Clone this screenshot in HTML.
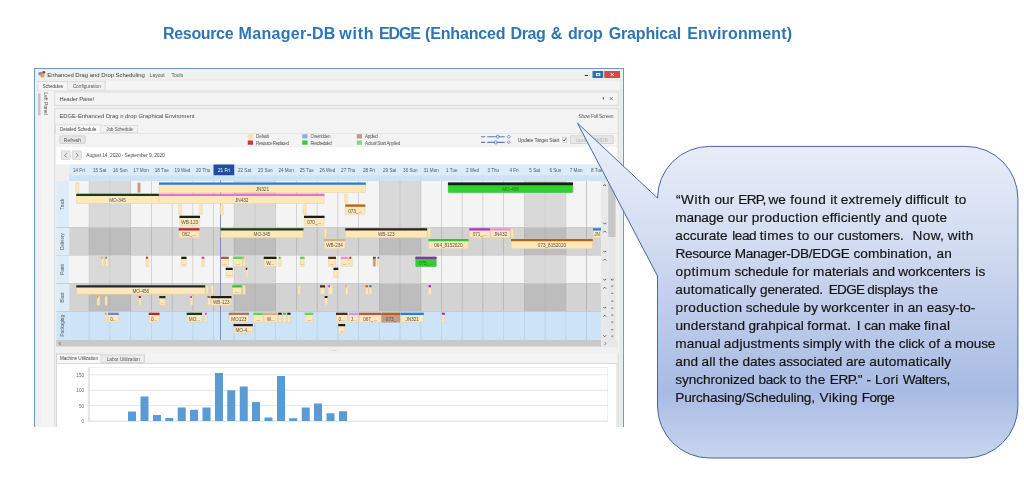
<!DOCTYPE html>
<html><head><meta charset="utf-8"><title>Resource Manager-DB with EDGE</title>
<style>
html,body{margin:0;padding:0;background:#fff;}
body{width:1024px;height:483px;position:relative;overflow:hidden;font-family:"Liberation Sans",sans-serif;}
.tw{position:absolute;top:19.2px;height:30px;line-height:30px;font-size:16px;font-weight:bold;color:#2e75b6;white-space:nowrap;}
#win{position:absolute;left:34px;top:68px;width:590.0px;height:358.5px;overflow:hidden;will-change:transform;}
#z{position:absolute;left:0;top:0;width:2360.0px;height:1434.0px;transform:scale(0.25);transform-origin:0 0;}
#win div{position:absolute;}
#win .t{font-family:"Liberation Sans",sans-serif;}
#callout{position:absolute;left:0;top:0;}
#quote{position:absolute;left:0;top:0;width:1024px;height:483px;will-change:transform;}
#ttl{position:absolute;left:0;top:0;width:1024px;height:60px;will-change:transform;}
.q{position:absolute;height:18px;line-height:18px;font-size:13.6px;color:#141414;-webkit-text-stroke:0.18px #141414;white-space:nowrap;}
</style></head><body>
<div id="ttl"><span class="tw" id="w0" style="left:163.10px;letter-spacing:-0.353px;">Resource</span> <span class="tw" id="w1" style="left:238.60px;letter-spacing:0.287px;">Manager-DB</span> <span class="tw" id="w2" style="left:339.30px;letter-spacing:0.750px;">with</span> <span class="tw" id="w3" style="left:379.00px;letter-spacing:-1.111px;">EDGE</span> <span class="tw" id="w4" style="left:425.00px;letter-spacing:-0.155px;">(Enhanced</span> <span class="tw" id="w5" style="left:510.50px;letter-spacing:-0.363px;">Drag</span> <span class="tw" id="w6" style="left:550.80px;letter-spacing:0.438px;">&amp;</span> <span class="tw" id="w7" style="left:567.90px;letter-spacing:-0.187px;">drop</span> <span class="tw" id="w8" style="left:608.70px;letter-spacing:-0.157px;">Graphical</span> <span class="tw" id="w9" style="left:687.20px;letter-spacing:0.156px;">Environment)</span></div>
<div id="win"><div id="z">
<div style="left:0px;top:0px;width:2360px;height:1442px;background:#f0f0f0;border:4px solid #7394cf;box-sizing:border-box;"></div>
<div class="t" style="left:52.8px;top:7.32px;height:40px;line-height:40px;font-size:23.8px;color:#3a3a3a;white-space:nowrap;letter-spacing:-0.13px;"><span id="t1">Enhanced Drag and Drop Scheduling</span></div>
<div class="t" style="left:462.4px;top:6.56px;height:40px;line-height:40px;font-size:20px;color:#555;white-space:nowrap;">Layout</div>
<div class="t" style="left:550px;top:6.56px;height:40px;line-height:40px;font-size:20px;color:#555;white-space:nowrap;">Tools</div>
<div style="left:18.4px;top:16px;width:14.4px;height:13.6px;background:#7a93bd;border-radius:4.8px;"></div>
<div style="left:26.4px;top:24.8px;width:16px;height:13.2px;background:#d9a24e;border-radius:4px;"></div>
<div style="left:32.8px;top:11.6px;width:12px;height:11.2px;background:#d62424;border-radius:8px;"></div>
<div style="left:2203.2px;top:27.6px;width:12.8px;height:4px;background:#333;"></div>
<div style="left:2234.4px;top:11.6px;width:42.8px;height:28px;background:#2e6db8;"></div>
<div style="left:2247.6px;top:19.6px;width:17.2px;height:12.8px;border:3.2px solid #fff;border-top-width:5.6px;box-sizing:border-box;"></div>
<div style="left:2281.2px;top:11.6px;width:63.2px;height:28px;background:#cf4d48;"></div>
<div style="left:4px;top:48.8px;width:2352px;height:41.2px;background:#f5f5f5;"></div>
<div style="left:4px;top:47.2px;width:2352px;height:2px;background:#e0e0e0;"></div>
<div style="left:14.4px;top:51.6px;width:122.8px;height:40.4px;background:#f6f6f6;border:3.2px solid #d4d4d4;border-bottom:none;box-sizing:border-box;"></div>
<div style="left:137.2px;top:53.2px;width:149.2px;height:36.8px;background:#f1f1f1;border:3.2px solid #d6d6d6;border-left:none;box-sizing:border-box;"></div>
<div style="left:12px;top:89.2px;width:2344px;height:2px;background:#dadada;"></div>
<div class="t" style="left:34px;top:52.32px;height:40px;line-height:40px;font-size:18.8px;color:#4a4a4a;white-space:nowrap;letter-spacing:-0.72px;"><span id="t2">Schedules</span></div>
<div class="t" style="left:154.8px;top:52.4px;height:40px;line-height:40px;font-size:19px;color:#555;white-space:nowrap;letter-spacing:-0.05px;"><span id="t3">Configuration</span></div>
<div style="left:15.6px;top:101.6px;width:10px;height:88.8px;background:#c4c4c4;"></div>
<div style="left:28px;top:92px;width:56px;height:1342px;background:#f3f3f3;"></div>
<div class="t" style="left:-136px;top:-291.84px;height:40px;line-height:40px;font-size:20px;color:#555;white-space:nowrap;left:-3.2px;top:122.4px;width:96px;text-align:center;transform:rotate(90deg);">Left Panel</div>
<div style="left:81.2px;top:94.4px;width:2258px;height:56.8px;background:#f4f4f4;border:4px solid #dadada;box-sizing:border-box;"></div>
<div style="left:2345.6px;top:52px;width:3.2px;height:1382px;background:#dcdcdc;"></div>
<div class="t" style="left:101.6px;top:102.56px;height:40px;line-height:40px;font-size:22.8px;color:#484848;white-space:nowrap;letter-spacing:-0.2px;"><span id="t4">Header Panel</span></div>
<div style="left:2275.2px;top:117.2px;width:4.8px;height:7.6px;background:#666;"></div>
<div style="left:2276.8px;top:124.8px;width:1.6px;height:4px;background:#666;"></div>
<div style="left:81.2px;top:160.8px;width:2258px;height:1281.2px;background:#f3f3f3;border:4px solid #dadada;box-sizing:border-box;"></div>
<div class="t" style="left:101.6px;top:173.16px;height:40px;line-height:40px;font-size:23.4px;color:#484848;white-space:nowrap;letter-spacing:-0px;"><span id="t5">EDGE-Enhanced Drag n drop Graphical Enviroment</span></div>
<div class="t" style="left:2178.4px;top:172px;height:40px;line-height:40px;font-size:19.6px;color:#555;white-space:nowrap;letter-spacing:-0.96px;"><span id="t6">Show Full Screen</span></div>
<div style="left:85.2px;top:225.6px;width:183.6px;height:36.8px;background:#f7f7f7;border:3.2px solid #d4d4d4;border-bottom:none;box-sizing:border-box;"></div>
<div style="left:268.8px;top:228px;width:147.2px;height:32.4px;background:#f1f1f1;border:3.2px solid #d8d8d8;border-left:none;box-sizing:border-box;"></div>
<div style="left:85.2px;top:260px;width:2254.8px;height:2.4px;background:#d8d8d8;"></div>
<div class="t" style="left:103.6px;top:225.12px;height:40px;line-height:40px;font-size:18.8px;color:#4a4a4a;white-space:nowrap;letter-spacing:-0.4px;"><span id="t7">Detailed Schedule</span></div>
<div class="t" style="left:288.8px;top:225.92px;height:40px;line-height:40px;font-size:18.8px;color:#555;white-space:nowrap;letter-spacing:-0.64px;"><span id="t8">Job Schedule</span></div>
<div style="left:101.6px;top:270.4px;width:104.4px;height:32.8px;background:#e7e7e7;border:3.2px solid #c6c6c6;box-sizing:border-box;border-radius:4px;"></div>
<div class="t" style="left:101.6px;top:266.8px;height:40px;line-height:40px;font-size:19.6px;color:#4a4a4a;white-space:nowrap;width:104.4px;text-align:center;">Refresh</div>
<div style="left:855.2px;top:265.2px;width:21.2px;height:16.8px;background:#fbe0ae;"></div>
<div class="t" style="left:888.4px;top:254.6px;height:40px;line-height:40px;font-size:18.4px;color:#5a5a5a;white-space:nowrap;letter-spacing:-1.05px;"><span id="t9">Default</span></div>
<div style="left:855.2px;top:290.4px;width:21.2px;height:16.8px;background:#c43a3a;"></div>
<div class="t" style="left:888.4px;top:279.8px;height:40px;line-height:40px;font-size:18.4px;color:#5a5a5a;white-space:nowrap;letter-spacing:-1.87px;"><span id="t10">Resource Replaced</span></div>
<div style="left:1073.2px;top:265.2px;width:21.2px;height:16.8px;background:#8db0e0;"></div>
<div class="t" style="left:1106.4px;top:254.6px;height:40px;line-height:40px;font-size:18.4px;color:#5a5a5a;white-space:nowrap;letter-spacing:-1.26px;"><span id="t11">Overridden</span></div>
<div style="left:1073.2px;top:290.4px;width:21.2px;height:16.8px;background:#35c935;"></div>
<div class="t" style="left:1106.4px;top:279.8px;height:40px;line-height:40px;font-size:18.4px;color:#5a5a5a;white-space:nowrap;letter-spacing:-2.22px;"><span id="t12">Rescheduled</span></div>
<div style="left:1291.2px;top:265.2px;width:21.2px;height:16.8px;background:#c49484;"></div>
<div class="t" style="left:1324.4px;top:254.6px;height:40px;line-height:40px;font-size:18.4px;color:#5a5a5a;white-space:nowrap;letter-spacing:-1.69px;"><span id="t13">Applied</span></div>
<div style="left:1291.2px;top:290.4px;width:21.2px;height:16.8px;background:#86d486;"></div>
<div class="t" style="left:1324.4px;top:279.8px;height:40px;line-height:40px;font-size:18.4px;color:#5a5a5a;white-space:nowrap;letter-spacing:-1.04px;"><span id="t14">Actual Start Applied</span></div>
<div style="left:1788px;top:272.6px;width:16.8px;height:4.4px;background:#5b7cc4;"></div>
<div style="left:1812.8px;top:272.6px;width:70px;height:4.4px;background:#5b7cc4;"></div>
<div style="left:1849.2px;top:267.2px;width:12px;height:15.2px;background:#f0f0f0;border:3.2px solid #5b7cc4;box-sizing:border-box;border-radius:3.2px;"></div>
<div style="left:1893.2px;top:268.6px;width:12.4px;height:12.4px;background:#f0f0f0;border:3.6px solid #5b7cc4;box-sizing:border-box;transform:rotate(45deg);"></div>
<div style="left:1788px;top:295.4px;width:16.8px;height:4.4px;background:#5b7cc4;"></div>
<div style="left:1812.8px;top:295.4px;width:70px;height:4.4px;background:#5b7cc4;"></div>
<div style="left:1840.8px;top:290px;width:12px;height:15.2px;background:#f0f0f0;border:3.2px solid #5b7cc4;box-sizing:border-box;border-radius:3.2px;"></div>
<div style="left:1893.2px;top:291.4px;width:12.4px;height:12.4px;background:#f0f0f0;border:3.6px solid #5b7cc4;box-sizing:border-box;transform:rotate(45deg);"></div>
<div class="t" style="left:1934.8px;top:268.16px;height:40px;line-height:40px;font-size:20px;color:#4a4a4a;white-space:nowrap;letter-spacing:-0.35px;"><span id="t15">Update Target Start</span></div>
<div style="left:2111.6px;top:276.8px;width:20.4px;height:20.8px;background:#fdfdfd;border:2.8px solid #b5b5b5;box-sizing:border-box;"></div>
<div style="left:2144px;top:270.4px;width:173.6px;height:33.2px;background:#e8e8e8;border:3.2px solid #cfcfcf;box-sizing:border-box;"></div>
<div class="t" style="left:2144px;top:267.76px;height:40px;line-height:40px;font-size:20px;color:#b4b4b4;white-space:nowrap;width:173.6px;text-align:center;">Update RMDB</div>
<div style="left:85.2px;top:312.8px;width:2254.8px;height:2px;background:#d4d4d4;"></div>
<div style="left:88.8px;top:314.4px;width:2243.2px;height:71.2px;background:#ffffff;"></div>
<div style="left:107.6px;top:330.4px;width:38px;height:36.8px;background:#e9e9e9;border:3.2px solid #cdcdcd;box-sizing:border-box;border-radius:3.2px;"></div>
<div style="left:153.2px;top:330.4px;width:38px;height:36.8px;background:#e9e9e9;border:3.2px solid #cdcdcd;box-sizing:border-box;border-radius:3.2px;"></div>
<div class="t" style="left:209.2px;top:330.4px;height:40px;line-height:40px;font-size:19.6px;color:#4a4a4a;white-space:nowrap;letter-spacing:-0.38px;"><span id="t16">August 14, 2020 - September 9, 2020</span></div>
<div style="left:88.8px;top:385.6px;width:51.2px;height:66.4px;background:#efefef;"></div>
<div style="left:140px;top:385.6px;width:2188px;height:43.2px;background:#dcedf9;"></div>
<div style="left:140px;top:428.8px;width:2188px;height:23.2px;background:#cde3f6;"></div>
<div style="left:718.16px;top:386.4px;width:82.88px;height:42.4px;background:#1f4e9c;"></div>
<div style="left:219.68px;top:430.4px;width:2.4px;height:21.6px;border-left:2.4px dashed #c3d9ed;box-sizing:border-box;"></div>
<div style="left:302.56px;top:430.4px;width:2.4px;height:21.6px;border-left:2.4px dashed #c3d9ed;box-sizing:border-box;"></div>
<div style="left:385.44px;top:430.4px;width:2.4px;height:21.6px;border-left:2.4px dashed #c3d9ed;box-sizing:border-box;"></div>
<div style="left:468.32px;top:430.4px;width:2.4px;height:21.6px;border-left:2.4px dashed #c3d9ed;box-sizing:border-box;"></div>
<div style="left:551.2px;top:430.4px;width:2.4px;height:21.6px;border-left:2.4px dashed #c3d9ed;box-sizing:border-box;"></div>
<div style="left:634.08px;top:430.4px;width:2.4px;height:21.6px;border-left:2.4px dashed #c3d9ed;box-sizing:border-box;"></div>
<div style="left:716.96px;top:430.4px;width:2.4px;height:21.6px;border-left:2.4px dashed #c3d9ed;box-sizing:border-box;"></div>
<div style="left:799.84px;top:430.4px;width:2.4px;height:21.6px;border-left:2.4px dashed #c3d9ed;box-sizing:border-box;"></div>
<div style="left:882.72px;top:430.4px;width:2.4px;height:21.6px;border-left:2.4px dashed #c3d9ed;box-sizing:border-box;"></div>
<div style="left:965.6px;top:430.4px;width:2.4px;height:21.6px;border-left:2.4px dashed #c3d9ed;box-sizing:border-box;"></div>
<div style="left:1048.48px;top:430.4px;width:2.4px;height:21.6px;border-left:2.4px dashed #c3d9ed;box-sizing:border-box;"></div>
<div style="left:1131.36px;top:430.4px;width:2.4px;height:21.6px;border-left:2.4px dashed #c3d9ed;box-sizing:border-box;"></div>
<div style="left:1214.24px;top:430.4px;width:2.4px;height:21.6px;border-left:2.4px dashed #c3d9ed;box-sizing:border-box;"></div>
<div style="left:1297.12px;top:430.4px;width:2.4px;height:21.6px;border-left:2.4px dashed #c3d9ed;box-sizing:border-box;"></div>
<div style="left:1380px;top:430.4px;width:2.4px;height:21.6px;border-left:2.4px dashed #c3d9ed;box-sizing:border-box;"></div>
<div style="left:1462.88px;top:430.4px;width:2.4px;height:21.6px;border-left:2.4px dashed #c3d9ed;box-sizing:border-box;"></div>
<div style="left:1545.76px;top:430.4px;width:2.4px;height:21.6px;border-left:2.4px dashed #c3d9ed;box-sizing:border-box;"></div>
<div style="left:1628.64px;top:430.4px;width:2.4px;height:21.6px;border-left:2.4px dashed #c3d9ed;box-sizing:border-box;"></div>
<div style="left:1711.52px;top:430.4px;width:2.4px;height:21.6px;border-left:2.4px dashed #c3d9ed;box-sizing:border-box;"></div>
<div style="left:1794.4px;top:430.4px;width:2.4px;height:21.6px;border-left:2.4px dashed #c3d9ed;box-sizing:border-box;"></div>
<div style="left:1877.28px;top:430.4px;width:2.4px;height:21.6px;border-left:2.4px dashed #c3d9ed;box-sizing:border-box;"></div>
<div style="left:1960.16px;top:430.4px;width:2.4px;height:21.6px;border-left:2.4px dashed #c3d9ed;box-sizing:border-box;"></div>
<div style="left:2043.04px;top:430.4px;width:2.4px;height:21.6px;border-left:2.4px dashed #c3d9ed;box-sizing:border-box;"></div>
<div style="left:2125.92px;top:430.4px;width:2.4px;height:21.6px;border-left:2.4px dashed #c3d9ed;box-sizing:border-box;"></div>
<div style="left:2208.8px;top:430.4px;width:2.4px;height:21.6px;border-left:2.4px dashed #c3d9ed;box-sizing:border-box;"></div>
<div class="t" style="left:138px;top:388.6px;height:40px;line-height:40px;font-size:18.4px;color:#555;white-space:nowrap;width:82.88px;text-align:center;">14 Fri</div>
<div class="t" style="left:220.88px;top:388.6px;height:40px;line-height:40px;font-size:18.4px;color:#555;white-space:nowrap;width:82.88px;text-align:center;">15 Sat</div>
<div class="t" style="left:303.76px;top:388.6px;height:40px;line-height:40px;font-size:18.4px;color:#555;white-space:nowrap;width:82.88px;text-align:center;">16 Sun</div>
<div class="t" style="left:386.64px;top:388.6px;height:40px;line-height:40px;font-size:18.4px;color:#555;white-space:nowrap;width:82.88px;text-align:center;">17 Mon</div>
<div class="t" style="left:469.52px;top:388.6px;height:40px;line-height:40px;font-size:18.4px;color:#555;white-space:nowrap;width:82.88px;text-align:center;">18 Tue</div>
<div class="t" style="left:552.4px;top:388.6px;height:40px;line-height:40px;font-size:18.4px;color:#555;white-space:nowrap;width:82.88px;text-align:center;">19 Wed</div>
<div class="t" style="left:635.28px;top:388.6px;height:40px;line-height:40px;font-size:18.4px;color:#555;white-space:nowrap;width:82.88px;text-align:center;">20 Thu</div>
<div class="t" style="left:718.16px;top:388.6px;height:40px;line-height:40px;font-size:18.4px;color:#fff;white-space:nowrap;width:82.88px;text-align:center;">21 Fri</div>
<div class="t" style="left:801.04px;top:388.6px;height:40px;line-height:40px;font-size:18.4px;color:#555;white-space:nowrap;width:82.88px;text-align:center;">22 Sat</div>
<div class="t" style="left:883.92px;top:388.6px;height:40px;line-height:40px;font-size:18.4px;color:#555;white-space:nowrap;width:82.88px;text-align:center;">23 Sun</div>
<div class="t" style="left:966.8px;top:388.6px;height:40px;line-height:40px;font-size:18.4px;color:#555;white-space:nowrap;width:82.88px;text-align:center;">24 Mon</div>
<div class="t" style="left:1049.68px;top:388.6px;height:40px;line-height:40px;font-size:18.4px;color:#555;white-space:nowrap;width:82.88px;text-align:center;">25 Tue</div>
<div class="t" style="left:1132.56px;top:388.6px;height:40px;line-height:40px;font-size:18.4px;color:#555;white-space:nowrap;width:82.88px;text-align:center;">26 Wed</div>
<div class="t" style="left:1215.44px;top:388.6px;height:40px;line-height:40px;font-size:18.4px;color:#555;white-space:nowrap;width:82.88px;text-align:center;">27 Thu</div>
<div class="t" style="left:1298.32px;top:388.6px;height:40px;line-height:40px;font-size:18.4px;color:#555;white-space:nowrap;width:82.88px;text-align:center;">28 Fri</div>
<div class="t" style="left:1381.2px;top:388.6px;height:40px;line-height:40px;font-size:18.4px;color:#555;white-space:nowrap;width:82.88px;text-align:center;">29 Sat</div>
<div class="t" style="left:1464.08px;top:388.6px;height:40px;line-height:40px;font-size:18.4px;color:#555;white-space:nowrap;width:82.88px;text-align:center;">30 Sun</div>
<div class="t" style="left:1546.96px;top:388.6px;height:40px;line-height:40px;font-size:18.4px;color:#555;white-space:nowrap;width:82.88px;text-align:center;">31 Mon</div>
<div class="t" style="left:1629.84px;top:388.6px;height:40px;line-height:40px;font-size:18.4px;color:#555;white-space:nowrap;width:82.88px;text-align:center;">1 Tue</div>
<div class="t" style="left:1712.72px;top:388.6px;height:40px;line-height:40px;font-size:18.4px;color:#555;white-space:nowrap;width:82.88px;text-align:center;">2 Wed</div>
<div class="t" style="left:1795.6px;top:388.6px;height:40px;line-height:40px;font-size:18.4px;color:#555;white-space:nowrap;width:82.88px;text-align:center;">3 Thu</div>
<div class="t" style="left:1878.48px;top:388.6px;height:40px;line-height:40px;font-size:18.4px;color:#555;white-space:nowrap;width:82.88px;text-align:center;">4 Fri</div>
<div class="t" style="left:1961.36px;top:388.6px;height:40px;line-height:40px;font-size:18.4px;color:#555;white-space:nowrap;width:82.88px;text-align:center;">5 Sat</div>
<div class="t" style="left:2044.24px;top:388.6px;height:40px;line-height:40px;font-size:18.4px;color:#555;white-space:nowrap;width:82.88px;text-align:center;">6 Sun</div>
<div class="t" style="left:2127.12px;top:388.6px;height:40px;line-height:40px;font-size:18.4px;color:#555;white-space:nowrap;width:82.88px;text-align:center;">7 Mon</div>
<div class="t" style="left:2210px;top:388.6px;height:40px;line-height:40px;font-size:18.4px;color:#555;white-space:nowrap;width:82.88px;text-align:center;">8 Tue</div>
<div style="left:88.8px;top:452px;width:52px;height:185.6px;background:#dcedf9;"></div>
<div style="left:140.8px;top:452px;width:2127.2px;height:185.6px;background:#f4f4f4;"></div>
<div style="left:220.88px;top:452px;width:82.88px;height:185.6px;background:#d9d9d9;"></div>
<div style="left:303.76px;top:452px;width:82.88px;height:185.6px;background:#d9d9d9;"></div>
<div style="left:801.04px;top:452px;width:82.88px;height:185.6px;background:#d9d9d9;"></div>
<div style="left:883.92px;top:452px;width:82.88px;height:185.6px;background:#d9d9d9;"></div>
<div style="left:1381.2px;top:452px;width:82.88px;height:185.6px;background:#d9d9d9;"></div>
<div style="left:1464.08px;top:452px;width:82.88px;height:185.6px;background:#d9d9d9;"></div>
<div style="left:1961.36px;top:452px;width:82.88px;height:185.6px;background:#d9d9d9;"></div>
<div style="left:2044.24px;top:452px;width:82.88px;height:185.6px;background:#d9d9d9;"></div>
<div style="left:219.28px;top:452px;width:3.2px;height:185.6px;background:#c9c9c9;"></div>
<div style="left:302.16px;top:452px;width:3.2px;height:185.6px;background:#c9c9c9;"></div>
<div style="left:385.04px;top:452px;width:3.2px;height:185.6px;background:#c9c9c9;"></div>
<div style="left:467.92px;top:452px;width:3.2px;height:185.6px;background:#c9c9c9;"></div>
<div style="left:550.8px;top:452px;width:3.2px;height:185.6px;background:#c9c9c9;"></div>
<div style="left:633.68px;top:452px;width:3.2px;height:185.6px;background:#c9c9c9;"></div>
<div style="left:716.56px;top:452px;width:3.2px;height:185.6px;background:#c9c9c9;"></div>
<div style="left:799.44px;top:452px;width:3.2px;height:185.6px;background:#c9c9c9;"></div>
<div style="left:882.32px;top:452px;width:3.2px;height:185.6px;background:#c9c9c9;"></div>
<div style="left:965.2px;top:452px;width:3.2px;height:185.6px;background:#c9c9c9;"></div>
<div style="left:1048.08px;top:452px;width:3.2px;height:185.6px;background:#c9c9c9;"></div>
<div style="left:1130.96px;top:452px;width:3.2px;height:185.6px;background:#c9c9c9;"></div>
<div style="left:1213.84px;top:452px;width:3.2px;height:185.6px;background:#c9c9c9;"></div>
<div style="left:1296.72px;top:452px;width:3.2px;height:185.6px;background:#c9c9c9;"></div>
<div style="left:1379.6px;top:452px;width:3.2px;height:185.6px;background:#c9c9c9;"></div>
<div style="left:1462.48px;top:452px;width:3.2px;height:185.6px;background:#c9c9c9;"></div>
<div style="left:1545.36px;top:452px;width:3.2px;height:185.6px;background:#c9c9c9;"></div>
<div style="left:1628.24px;top:452px;width:3.2px;height:185.6px;background:#c9c9c9;"></div>
<div style="left:1711.12px;top:452px;width:3.2px;height:185.6px;background:#c9c9c9;"></div>
<div style="left:1794px;top:452px;width:3.2px;height:185.6px;background:#c9c9c9;"></div>
<div style="left:1876.88px;top:452px;width:3.2px;height:185.6px;background:#c9c9c9;"></div>
<div style="left:1959.76px;top:452px;width:3.2px;height:185.6px;background:#c9c9c9;"></div>
<div style="left:2042.64px;top:452px;width:3.2px;height:185.6px;background:#c9c9c9;"></div>
<div style="left:2125.52px;top:452px;width:3.2px;height:185.6px;background:#c9c9c9;"></div>
<div style="left:2208.4px;top:452px;width:3.2px;height:185.6px;background:#c9c9c9;"></div>
<div class="t" style="left:-136px;top:-291.4px;height:40px;line-height:40px;font-size:18.4px;color:#555;white-space:nowrap;left:55.2px;top:524.8px;width:120px;text-align:center;transform:rotate(-90deg);">Truck</div>
<div style="left:88.8px;top:637.6px;width:52px;height:112.4px;background:#dcedf9;"></div>
<div style="left:140.8px;top:637.6px;width:2127.2px;height:112.4px;background:#d3d3d3;"></div>
<div style="left:220.88px;top:637.6px;width:82.88px;height:112.4px;background:#bdbdbd;"></div>
<div style="left:303.76px;top:637.6px;width:82.88px;height:112.4px;background:#bdbdbd;"></div>
<div style="left:801.04px;top:637.6px;width:82.88px;height:112.4px;background:#bdbdbd;"></div>
<div style="left:883.92px;top:637.6px;width:82.88px;height:112.4px;background:#bdbdbd;"></div>
<div style="left:1381.2px;top:637.6px;width:82.88px;height:112.4px;background:#bdbdbd;"></div>
<div style="left:1464.08px;top:637.6px;width:82.88px;height:112.4px;background:#bdbdbd;"></div>
<div style="left:1961.36px;top:637.6px;width:82.88px;height:112.4px;background:#bdbdbd;"></div>
<div style="left:2044.24px;top:637.6px;width:82.88px;height:112.4px;background:#bdbdbd;"></div>
<div style="left:219.28px;top:637.6px;width:3.2px;height:112.4px;background:#b2b2b2;"></div>
<div style="left:302.16px;top:637.6px;width:3.2px;height:112.4px;background:#b2b2b2;"></div>
<div style="left:385.04px;top:637.6px;width:3.2px;height:112.4px;background:#b2b2b2;"></div>
<div style="left:467.92px;top:637.6px;width:3.2px;height:112.4px;background:#b2b2b2;"></div>
<div style="left:550.8px;top:637.6px;width:3.2px;height:112.4px;background:#b2b2b2;"></div>
<div style="left:633.68px;top:637.6px;width:3.2px;height:112.4px;background:#b2b2b2;"></div>
<div style="left:716.56px;top:637.6px;width:3.2px;height:112.4px;background:#b2b2b2;"></div>
<div style="left:799.44px;top:637.6px;width:3.2px;height:112.4px;background:#b2b2b2;"></div>
<div style="left:882.32px;top:637.6px;width:3.2px;height:112.4px;background:#b2b2b2;"></div>
<div style="left:965.2px;top:637.6px;width:3.2px;height:112.4px;background:#b2b2b2;"></div>
<div style="left:1048.08px;top:637.6px;width:3.2px;height:112.4px;background:#b2b2b2;"></div>
<div style="left:1130.96px;top:637.6px;width:3.2px;height:112.4px;background:#b2b2b2;"></div>
<div style="left:1213.84px;top:637.6px;width:3.2px;height:112.4px;background:#b2b2b2;"></div>
<div style="left:1296.72px;top:637.6px;width:3.2px;height:112.4px;background:#b2b2b2;"></div>
<div style="left:1379.6px;top:637.6px;width:3.2px;height:112.4px;background:#b2b2b2;"></div>
<div style="left:1462.48px;top:637.6px;width:3.2px;height:112.4px;background:#b2b2b2;"></div>
<div style="left:1545.36px;top:637.6px;width:3.2px;height:112.4px;background:#b2b2b2;"></div>
<div style="left:1628.24px;top:637.6px;width:3.2px;height:112.4px;background:#b2b2b2;"></div>
<div style="left:1711.12px;top:637.6px;width:3.2px;height:112.4px;background:#b2b2b2;"></div>
<div style="left:1794px;top:637.6px;width:3.2px;height:112.4px;background:#b2b2b2;"></div>
<div style="left:1876.88px;top:637.6px;width:3.2px;height:112.4px;background:#b2b2b2;"></div>
<div style="left:1959.76px;top:637.6px;width:3.2px;height:112.4px;background:#b2b2b2;"></div>
<div style="left:2042.64px;top:637.6px;width:3.2px;height:112.4px;background:#b2b2b2;"></div>
<div style="left:2125.52px;top:637.6px;width:3.2px;height:112.4px;background:#b2b2b2;"></div>
<div style="left:2208.4px;top:637.6px;width:3.2px;height:112.4px;background:#b2b2b2;"></div>
<div class="t" style="left:-136px;top:-291.4px;height:40px;line-height:40px;font-size:18.4px;color:#555;white-space:nowrap;left:55.2px;top:673.8px;width:120px;text-align:center;transform:rotate(-90deg);">Delivery</div>
<div style="left:88.8px;top:750px;width:52px;height:112.4px;background:#dcedf9;"></div>
<div style="left:140.8px;top:750px;width:2127.2px;height:112.4px;background:#f4f4f4;"></div>
<div style="left:220.88px;top:750px;width:82.88px;height:112.4px;background:#d9d9d9;"></div>
<div style="left:303.76px;top:750px;width:82.88px;height:112.4px;background:#d9d9d9;"></div>
<div style="left:801.04px;top:750px;width:82.88px;height:112.4px;background:#d9d9d9;"></div>
<div style="left:883.92px;top:750px;width:82.88px;height:112.4px;background:#d9d9d9;"></div>
<div style="left:1381.2px;top:750px;width:82.88px;height:112.4px;background:#d9d9d9;"></div>
<div style="left:1464.08px;top:750px;width:82.88px;height:112.4px;background:#d9d9d9;"></div>
<div style="left:1961.36px;top:750px;width:82.88px;height:112.4px;background:#d9d9d9;"></div>
<div style="left:2044.24px;top:750px;width:82.88px;height:112.4px;background:#d9d9d9;"></div>
<div style="left:219.28px;top:750px;width:3.2px;height:112.4px;background:#c9c9c9;"></div>
<div style="left:302.16px;top:750px;width:3.2px;height:112.4px;background:#c9c9c9;"></div>
<div style="left:385.04px;top:750px;width:3.2px;height:112.4px;background:#c9c9c9;"></div>
<div style="left:467.92px;top:750px;width:3.2px;height:112.4px;background:#c9c9c9;"></div>
<div style="left:550.8px;top:750px;width:3.2px;height:112.4px;background:#c9c9c9;"></div>
<div style="left:633.68px;top:750px;width:3.2px;height:112.4px;background:#c9c9c9;"></div>
<div style="left:716.56px;top:750px;width:3.2px;height:112.4px;background:#c9c9c9;"></div>
<div style="left:799.44px;top:750px;width:3.2px;height:112.4px;background:#c9c9c9;"></div>
<div style="left:882.32px;top:750px;width:3.2px;height:112.4px;background:#c9c9c9;"></div>
<div style="left:965.2px;top:750px;width:3.2px;height:112.4px;background:#c9c9c9;"></div>
<div style="left:1048.08px;top:750px;width:3.2px;height:112.4px;background:#c9c9c9;"></div>
<div style="left:1130.96px;top:750px;width:3.2px;height:112.4px;background:#c9c9c9;"></div>
<div style="left:1213.84px;top:750px;width:3.2px;height:112.4px;background:#c9c9c9;"></div>
<div style="left:1296.72px;top:750px;width:3.2px;height:112.4px;background:#c9c9c9;"></div>
<div style="left:1379.6px;top:750px;width:3.2px;height:112.4px;background:#c9c9c9;"></div>
<div style="left:1462.48px;top:750px;width:3.2px;height:112.4px;background:#c9c9c9;"></div>
<div style="left:1545.36px;top:750px;width:3.2px;height:112.4px;background:#c9c9c9;"></div>
<div style="left:1628.24px;top:750px;width:3.2px;height:112.4px;background:#c9c9c9;"></div>
<div style="left:1711.12px;top:750px;width:3.2px;height:112.4px;background:#c9c9c9;"></div>
<div style="left:1794px;top:750px;width:3.2px;height:112.4px;background:#c9c9c9;"></div>
<div style="left:1876.88px;top:750px;width:3.2px;height:112.4px;background:#c9c9c9;"></div>
<div style="left:1959.76px;top:750px;width:3.2px;height:112.4px;background:#c9c9c9;"></div>
<div style="left:2042.64px;top:750px;width:3.2px;height:112.4px;background:#c9c9c9;"></div>
<div style="left:2125.52px;top:750px;width:3.2px;height:112.4px;background:#c9c9c9;"></div>
<div style="left:2208.4px;top:750px;width:3.2px;height:112.4px;background:#c9c9c9;"></div>
<div class="t" style="left:-136px;top:-291.4px;height:40px;line-height:40px;font-size:18.4px;color:#555;white-space:nowrap;left:55.2px;top:786.2px;width:120px;text-align:center;transform:rotate(-90deg);">Paint</div>
<div style="left:88.8px;top:862.4px;width:52px;height:112px;background:#dcedf9;"></div>
<div style="left:140.8px;top:862.4px;width:2127.2px;height:112px;background:#d3d3d3;"></div>
<div style="left:220.88px;top:862.4px;width:82.88px;height:112px;background:#bdbdbd;"></div>
<div style="left:303.76px;top:862.4px;width:82.88px;height:112px;background:#bdbdbd;"></div>
<div style="left:801.04px;top:862.4px;width:82.88px;height:112px;background:#bdbdbd;"></div>
<div style="left:883.92px;top:862.4px;width:82.88px;height:112px;background:#bdbdbd;"></div>
<div style="left:1381.2px;top:862.4px;width:82.88px;height:112px;background:#bdbdbd;"></div>
<div style="left:1464.08px;top:862.4px;width:82.88px;height:112px;background:#bdbdbd;"></div>
<div style="left:1961.36px;top:862.4px;width:82.88px;height:112px;background:#bdbdbd;"></div>
<div style="left:2044.24px;top:862.4px;width:82.88px;height:112px;background:#bdbdbd;"></div>
<div style="left:219.28px;top:862.4px;width:3.2px;height:112px;background:#b2b2b2;"></div>
<div style="left:302.16px;top:862.4px;width:3.2px;height:112px;background:#b2b2b2;"></div>
<div style="left:385.04px;top:862.4px;width:3.2px;height:112px;background:#b2b2b2;"></div>
<div style="left:467.92px;top:862.4px;width:3.2px;height:112px;background:#b2b2b2;"></div>
<div style="left:550.8px;top:862.4px;width:3.2px;height:112px;background:#b2b2b2;"></div>
<div style="left:633.68px;top:862.4px;width:3.2px;height:112px;background:#b2b2b2;"></div>
<div style="left:716.56px;top:862.4px;width:3.2px;height:112px;background:#b2b2b2;"></div>
<div style="left:799.44px;top:862.4px;width:3.2px;height:112px;background:#b2b2b2;"></div>
<div style="left:882.32px;top:862.4px;width:3.2px;height:112px;background:#b2b2b2;"></div>
<div style="left:965.2px;top:862.4px;width:3.2px;height:112px;background:#b2b2b2;"></div>
<div style="left:1048.08px;top:862.4px;width:3.2px;height:112px;background:#b2b2b2;"></div>
<div style="left:1130.96px;top:862.4px;width:3.2px;height:112px;background:#b2b2b2;"></div>
<div style="left:1213.84px;top:862.4px;width:3.2px;height:112px;background:#b2b2b2;"></div>
<div style="left:1296.72px;top:862.4px;width:3.2px;height:112px;background:#b2b2b2;"></div>
<div style="left:1379.6px;top:862.4px;width:3.2px;height:112px;background:#b2b2b2;"></div>
<div style="left:1462.48px;top:862.4px;width:3.2px;height:112px;background:#b2b2b2;"></div>
<div style="left:1545.36px;top:862.4px;width:3.2px;height:112px;background:#b2b2b2;"></div>
<div style="left:1628.24px;top:862.4px;width:3.2px;height:112px;background:#b2b2b2;"></div>
<div style="left:1711.12px;top:862.4px;width:3.2px;height:112px;background:#b2b2b2;"></div>
<div style="left:1794px;top:862.4px;width:3.2px;height:112px;background:#b2b2b2;"></div>
<div style="left:1876.88px;top:862.4px;width:3.2px;height:112px;background:#b2b2b2;"></div>
<div style="left:1959.76px;top:862.4px;width:3.2px;height:112px;background:#b2b2b2;"></div>
<div style="left:2042.64px;top:862.4px;width:3.2px;height:112px;background:#b2b2b2;"></div>
<div style="left:2125.52px;top:862.4px;width:3.2px;height:112px;background:#b2b2b2;"></div>
<div style="left:2208.4px;top:862.4px;width:3.2px;height:112px;background:#b2b2b2;"></div>
<div class="t" style="left:-136px;top:-291.4px;height:40px;line-height:40px;font-size:18.4px;color:#555;white-space:nowrap;left:55.2px;top:898.4px;width:120px;text-align:center;transform:rotate(-90deg);">Blast</div>
<div style="left:88.8px;top:974.4px;width:52px;height:113.6px;background:#cfe4f7;"></div>
<div style="left:140.8px;top:974.4px;width:2127.2px;height:113.6px;background:#cde3f7;"></div>
<div style="left:219.28px;top:974.4px;width:3.2px;height:113.6px;background:#bdd0e3;"></div>
<div style="left:302.16px;top:974.4px;width:3.2px;height:113.6px;background:#bdd0e3;"></div>
<div style="left:385.04px;top:974.4px;width:3.2px;height:113.6px;background:#bdd0e3;"></div>
<div style="left:467.92px;top:974.4px;width:3.2px;height:113.6px;background:#bdd0e3;"></div>
<div style="left:550.8px;top:974.4px;width:3.2px;height:113.6px;background:#bdd0e3;"></div>
<div style="left:633.68px;top:974.4px;width:3.2px;height:113.6px;background:#bdd0e3;"></div>
<div style="left:716.56px;top:974.4px;width:3.2px;height:113.6px;background:#bdd0e3;"></div>
<div style="left:799.44px;top:974.4px;width:3.2px;height:113.6px;background:#bdd0e3;"></div>
<div style="left:882.32px;top:974.4px;width:3.2px;height:113.6px;background:#bdd0e3;"></div>
<div style="left:965.2px;top:974.4px;width:3.2px;height:113.6px;background:#bdd0e3;"></div>
<div style="left:1048.08px;top:974.4px;width:3.2px;height:113.6px;background:#bdd0e3;"></div>
<div style="left:1130.96px;top:974.4px;width:3.2px;height:113.6px;background:#bdd0e3;"></div>
<div style="left:1213.84px;top:974.4px;width:3.2px;height:113.6px;background:#bdd0e3;"></div>
<div style="left:1296.72px;top:974.4px;width:3.2px;height:113.6px;background:#bdd0e3;"></div>
<div style="left:1379.6px;top:974.4px;width:3.2px;height:113.6px;background:#bdd0e3;"></div>
<div style="left:1462.48px;top:974.4px;width:3.2px;height:113.6px;background:#bdd0e3;"></div>
<div style="left:1545.36px;top:974.4px;width:3.2px;height:113.6px;background:#bdd0e3;"></div>
<div style="left:1628.24px;top:974.4px;width:3.2px;height:113.6px;background:#bdd0e3;"></div>
<div style="left:1711.12px;top:974.4px;width:3.2px;height:113.6px;background:#bdd0e3;"></div>
<div style="left:1794px;top:974.4px;width:3.2px;height:113.6px;background:#bdd0e3;"></div>
<div style="left:1876.88px;top:974.4px;width:3.2px;height:113.6px;background:#bdd0e3;"></div>
<div style="left:1959.76px;top:974.4px;width:3.2px;height:113.6px;background:#bdd0e3;"></div>
<div style="left:2042.64px;top:974.4px;width:3.2px;height:113.6px;background:#bdd0e3;"></div>
<div style="left:2125.52px;top:974.4px;width:3.2px;height:113.6px;background:#bdd0e3;"></div>
<div style="left:2208.4px;top:974.4px;width:3.2px;height:113.6px;background:#bdd0e3;"></div>
<div class="t" style="left:-136px;top:-291.4px;height:40px;line-height:40px;font-size:18.4px;color:#555;white-space:nowrap;left:55.2px;top:1011.2px;width:120px;text-align:center;transform:rotate(-90deg);">Packaging</div>
<div style="left:88.8px;top:636.4px;width:2179.2px;height:2.4px;background:#c4c4c4;"></div>
<div style="left:88.8px;top:748.8px;width:2179.2px;height:2.4px;background:#c4c4c4;"></div>
<div style="left:88.8px;top:861.2px;width:2179.2px;height:2.4px;background:#c4c4c4;"></div>
<div style="left:88.8px;top:973.2px;width:2179.2px;height:2.4px;background:#c4c4c4;"></div>
<div style="left:745.2px;top:450.4px;width:3.2px;height:637.6px;background:#5b78a8;"></div>
<div style="left:165.6px;top:458.4px;width:14px;height:40.8px;background:#fde7bb;border:2.4px solid #e2cf9f;box-sizing:border-box;border-radius:2.4px;"></div>
<div style="left:412.8px;top:458.4px;width:14.4px;height:40.8px;background:#c99886;border:2.4px solid #e2cf9f;box-sizing:border-box;border-radius:2.4px;"></div>
<div style="left:499.6px;top:458.4px;width:827.2px;height:40.8px;background:#fde7bb;border:2.4px solid #e2cf9f;box-sizing:border-box;border-radius:2.4px;"></div>
<div style="left:499.6px;top:458.4px;width:827.2px;height:8.8px;background:#1f80e6;"></div>
<div class="t" style="left:499.6px;top:464.72px;height:40px;line-height:40px;font-size:18.8px;color:#555;white-space:nowrap;width:827.2px;text-align:center;letter-spacing:-0.2px;">JN321</div>
<div style="left:1656.4px;top:458.4px;width:499.2px;height:40.8px;background:#2fd22f;border:2.4px solid #28b828;box-sizing:border-box;border-radius:2.4px;"></div>
<div style="left:1656.4px;top:458.4px;width:499.2px;height:10.4px;background:#1c1c1c;"></div>
<div class="t" style="left:1656.4px;top:465.52px;height:40px;line-height:40px;font-size:18.8px;color:#1a7a1a;white-space:nowrap;width:499.2px;text-align:center;letter-spacing:-0.2px;">MO-456</div>
<div style="left:169.2px;top:502.8px;width:330.4px;height:40px;background:#fde7bb;border:2.4px solid #e2cf9f;box-sizing:border-box;border-radius:2.4px;"></div>
<div style="left:169.2px;top:502.8px;width:330.4px;height:8.8px;background:#173a17;"></div>
<div class="t" style="left:169.2px;top:508.72px;height:40px;line-height:40px;font-size:18.8px;color:#555;white-space:nowrap;width:330.4px;text-align:center;letter-spacing:-0.2px;">MO-345</div>
<div style="left:499.6px;top:502.8px;width:662.4px;height:40px;background:#fde7bb;border:2.4px solid #e2cf9f;box-sizing:border-box;border-radius:2.4px;"></div>
<div style="left:499.6px;top:502.8px;width:662.4px;height:8.8px;background:#e36fe3;"></div>
<div class="t" style="left:499.6px;top:508.72px;height:40px;line-height:40px;font-size:18.8px;color:#555;white-space:nowrap;width:662.4px;text-align:center;letter-spacing:-0.2px;">JN432</div>
<div style="left:1242.4px;top:502.8px;width:12px;height:40px;background:#fde7bb;border:2.4px solid #e2cf9f;box-sizing:border-box;border-radius:2.4px;"></div>
<div style="left:578px;top:546px;width:13.2px;height:42px;background:#fde7bb;border:2.4px solid #e2cf9f;box-sizing:border-box;border-radius:2.4px;"></div>
<div style="left:661.6px;top:546px;width:12.8px;height:42px;background:#fde7bb;border:2.4px solid #e2cf9f;box-sizing:border-box;border-radius:2.4px;"></div>
<div style="left:743.6px;top:546px;width:14px;height:42px;background:#fde7bb;border:2.4px solid #e2cf9f;box-sizing:border-box;border-radius:2.4px;"></div>
<div style="left:1076px;top:546px;width:13.2px;height:42px;background:#fde7bb;border:2.4px solid #e2cf9f;box-sizing:border-box;border-radius:2.4px;"></div>
<div style="left:1244.8px;top:546px;width:80px;height:40px;background:#fde7bb;border:2.4px solid #e2cf9f;box-sizing:border-box;border-radius:2.4px;"></div>
<div style="left:1244.8px;top:546px;width:80px;height:8.8px;background:#b5640f;"></div>
<div class="t" style="left:1244.8px;top:551.92px;height:40px;line-height:40px;font-size:18.8px;color:#555;white-space:nowrap;width:80px;text-align:center;letter-spacing:-0.2px;">073_...</div>
<div style="left:581.6px;top:590.8px;width:82.4px;height:41.2px;background:#fde7bb;border:2.4px solid #e2cf9f;box-sizing:border-box;border-radius:2.4px;"></div>
<div style="left:581.6px;top:590.8px;width:82.4px;height:8.8px;background:#1c1c1c;"></div>
<div class="t" style="left:581.6px;top:597.32px;height:40px;line-height:40px;font-size:18.8px;color:#555;white-space:nowrap;width:82.4px;text-align:center;letter-spacing:-0.2px;">WB-123</div>
<div style="left:1080px;top:590.8px;width:82px;height:41.2px;background:#fde7bb;border:2.4px solid #e2cf9f;box-sizing:border-box;border-radius:2.4px;"></div>
<div style="left:1080px;top:590.8px;width:82px;height:8.8px;background:#1c1c1c;"></div>
<div class="t" style="left:1080px;top:597.32px;height:40px;line-height:40px;font-size:18.8px;color:#555;white-space:nowrap;width:82px;text-align:center;letter-spacing:-0.2px;">070_...</div>
<div style="left:579.2px;top:641.2px;width:83.2px;height:38.8px;background:#fde7bb;border:2.4px solid #e2cf9f;box-sizing:border-box;border-radius:2.4px;"></div>
<div style="left:579.2px;top:641.2px;width:83.2px;height:8.8px;background:#c22222;"></div>
<div class="t" style="left:579.2px;top:646.52px;height:40px;line-height:40px;font-size:18.8px;color:#555;white-space:nowrap;width:83.2px;text-align:center;letter-spacing:-0.2px;">062_...</div>
<div style="left:746px;top:641.2px;width:331.6px;height:38.8px;background:#fde7bb;border:2.4px solid #e2cf9f;box-sizing:border-box;border-radius:2.4px;"></div>
<div style="left:746px;top:641.2px;width:331.6px;height:8.8px;background:#173a17;"></div>
<div class="t" style="left:746px;top:646.52px;height:40px;line-height:40px;font-size:18.8px;color:#555;white-space:nowrap;width:331.6px;text-align:center;letter-spacing:-0.2px;">MO-345</div>
<div style="left:1159.6px;top:641.2px;width:11.6px;height:38.8px;background:#fde7bb;border:2.4px solid #e2cf9f;box-sizing:border-box;border-radius:2.4px;"></div>
<div style="left:1244.8px;top:641.2px;width:328.4px;height:38.8px;background:#fde7bb;border:2.4px solid #e2cf9f;box-sizing:border-box;border-radius:2.4px;"></div>
<div style="left:1244.8px;top:641.2px;width:328.4px;height:8.8px;background:#2a2218;"></div>
<div class="t" style="left:1244.8px;top:646.52px;height:40px;line-height:40px;font-size:18.8px;color:#555;white-space:nowrap;width:328.4px;text-align:center;letter-spacing:-0.2px;">WB-123</div>
<div style="left:1574.4px;top:641.2px;width:14px;height:38.8px;background:#fde7bb;border:2.4px solid #e2cf9f;box-sizing:border-box;border-radius:2.4px;"></div>
<div style="left:1740.8px;top:641.2px;width:84.4px;height:38.8px;background:#fde7bb;border:2.4px solid #e2cf9f;box-sizing:border-box;border-radius:2.4px;"></div>
<div style="left:1740.8px;top:641.2px;width:84.4px;height:8.8px;background:#b02fd0;"></div>
<div class="t" style="left:1740.8px;top:646.52px;height:40px;line-height:40px;font-size:18.8px;color:#555;white-space:nowrap;width:84.4px;text-align:center;letter-spacing:-0.2px;">071_...</div>
<div style="left:1826.4px;top:641.2px;width:78.4px;height:38.8px;background:#fde7bb;border:2.4px solid #e2cf9f;box-sizing:border-box;border-radius:2.4px;"></div>
<div style="left:1826.4px;top:641.2px;width:78.4px;height:8.8px;background:#ea8fe6;"></div>
<div class="t" style="left:1826.4px;top:646.52px;height:40px;line-height:40px;font-size:18.8px;color:#555;white-space:nowrap;width:78.4px;text-align:center;letter-spacing:-0.2px;">JN432</div>
<div style="left:1907.2px;top:641.2px;width:11.6px;height:38.8px;background:#fde7bb;border:2.4px solid #e2cf9f;box-sizing:border-box;border-radius:2.4px;"></div>
<div style="left:2236.4px;top:641.2px;width:31.6px;height:38.8px;background:#fde7bb;border:2.4px solid #e2cf9f;box-sizing:border-box;border-radius:2.4px;"></div>
<div style="left:2236.4px;top:641.2px;width:31.6px;height:8.8px;background:#1f80e6;"></div>
<div class="t" style="left:2236.4px;top:646.52px;height:40px;line-height:40px;font-size:18.8px;color:#555;white-space:nowrap;width:31.6px;text-align:center;letter-spacing:-0.2px;">JN</div>
<div style="left:1159.6px;top:684.4px;width:85.2px;height:40px;background:#fde7bb;border:2.4px solid #e2cf9f;box-sizing:border-box;border-radius:2.4px;"></div>
<div style="left:1159.6px;top:684.4px;width:85.2px;height:8.8px;background:#d9ad8a;"></div>
<div class="t" style="left:1159.6px;top:690.32px;height:40px;line-height:40px;font-size:18.8px;color:#555;white-space:nowrap;width:85.2px;text-align:center;letter-spacing:-0.2px;">WB-234</div>
<div style="left:1576.8px;top:684.4px;width:161.6px;height:40px;background:#fde7bb;border:2.4px solid #e2cf9f;box-sizing:border-box;border-radius:2.4px;"></div>
<div style="left:1576.8px;top:684.4px;width:161.6px;height:8.8px;background:#33c433;"></div>
<div class="t" style="left:1576.8px;top:690.32px;height:40px;line-height:40px;font-size:18.8px;color:#555;white-space:nowrap;width:161.6px;text-align:center;letter-spacing:-0.2px;">064_8152020</div>
<div style="left:1908.4px;top:684.4px;width:326.8px;height:40px;background:#fde7bb;border:2.4px solid #e2cf9f;box-sizing:border-box;border-radius:2.4px;"></div>
<div style="left:1908.4px;top:684.4px;width:326.8px;height:8.8px;background:#b5640f;"></div>
<div class="t" style="left:1908.4px;top:690.32px;height:40px;line-height:40px;font-size:18.8px;color:#555;white-space:nowrap;width:326.8px;text-align:center;letter-spacing:-0.2px;">073_8152020</div>
<div style="left:267.6px;top:754.8px;width:12.8px;height:40px;background:#fde7bb;border:2.4px solid #e2cf9f;box-sizing:border-box;border-radius:2.4px;"></div>
<div style="left:268.8px;top:754.8px;width:4.8px;height:8px;background:#e89a2e;"></div>
<div style="left:285.2px;top:754.8px;width:12.8px;height:40px;background:#fde7bb;border:2.4px solid #e2cf9f;box-sizing:border-box;border-radius:2.4px;"></div>
<div style="left:286.4px;top:754.8px;width:4.8px;height:8px;background:#3070d0;"></div>
<div style="left:446.8px;top:754.8px;width:13.2px;height:40px;background:#fde7bb;border:2.4px solid #e2cf9f;box-sizing:border-box;border-radius:2.4px;"></div>
<div style="left:448px;top:754.8px;width:6.8px;height:8px;background:#c22222;"></div>
<div style="left:588.8px;top:754.8px;width:21.2px;height:40px;background:#fde7bb;border:2.4px solid #e2cf9f;box-sizing:border-box;border-radius:2.4px;"></div>
<div style="left:588.8px;top:754.8px;width:21.2px;height:8.8px;background:#1c1c1c;"></div>
<div class="t" style="left:588.8px;top:760.72px;height:40px;line-height:40px;font-size:18.8px;color:#555;white-space:nowrap;width:21.2px;text-align:center;letter-spacing:-0.2px;">..</div>
<div style="left:669.6px;top:754.8px;width:12.8px;height:40px;background:#fde7bb;border:2.4px solid #e2cf9f;box-sizing:border-box;border-radius:2.4px;"></div>
<div style="left:670.8px;top:754.8px;width:10.4px;height:8px;background:#e030d0;"></div>
<div style="left:748px;top:754.8px;width:30.8px;height:40px;background:#fde7bb;border:2.4px solid #e2cf9f;box-sizing:border-box;border-radius:2.4px;"></div>
<div style="left:748px;top:754.8px;width:30.8px;height:8.8px;background:#8a6a5a;"></div>
<div class="t" style="left:748px;top:760.72px;height:40px;line-height:40px;font-size:18.8px;color:#555;white-space:nowrap;width:30.8px;text-align:center;letter-spacing:-0.2px;">...</div>
<div style="left:796px;top:754.8px;width:38.8px;height:40px;background:#fde7bb;border:2.4px solid #e2cf9f;box-sizing:border-box;border-radius:2.4px;"></div>
<div style="left:796px;top:754.8px;width:38.8px;height:8.8px;background:#5fd45f;"></div>
<div class="t" style="left:796px;top:760.72px;height:40px;line-height:40px;font-size:18.8px;color:#555;white-space:nowrap;width:38.8px;text-align:center;letter-spacing:-0.2px;">...</div>
<div style="left:836px;top:754.8px;width:12px;height:40px;background:#fde7bb;border:2.4px solid #e2cf9f;box-sizing:border-box;border-radius:2.4px;"></div>
<div style="left:837.2px;top:754.8px;width:3.6px;height:8px;background:#999;"></div>
<div style="left:919.2px;top:754.8px;width:50.4px;height:40px;background:#fde7bb;border:2.4px solid #e2cf9f;box-sizing:border-box;border-radius:2.4px;"></div>
<div style="left:919.2px;top:754.8px;width:50.4px;height:8.8px;background:#1c1c1c;"></div>
<div class="t" style="left:919.2px;top:760.72px;height:40px;line-height:40px;font-size:18.8px;color:#555;white-space:nowrap;width:50.4px;text-align:center;letter-spacing:-0.2px;">W...</div>
<div style="left:978px;top:754.8px;width:11.6px;height:40px;background:#fde7bb;border:2.4px solid #e2cf9f;box-sizing:border-box;border-radius:2.4px;"></div>
<div style="left:979.2px;top:754.8px;width:6.8px;height:8px;background:#33c433;"></div>
<div style="left:1063.6px;top:754.8px;width:18.4px;height:40px;background:#fde7bb;border:2.4px solid #e2cf9f;box-sizing:border-box;border-radius:2.4px;"></div>
<div style="left:1063.6px;top:754.8px;width:18.4px;height:8.8px;background:#5fd45f;"></div>
<div class="t" style="left:1063.6px;top:760.72px;height:40px;line-height:40px;font-size:18.8px;color:#555;white-space:nowrap;width:18.4px;text-align:center;letter-spacing:-0.2px;">..</div>
<div style="left:1177.2px;top:754.8px;width:30.4px;height:40px;background:#fde7bb;border:2.4px solid #e2cf9f;box-sizing:border-box;border-radius:2.4px;"></div>
<div style="left:1177.2px;top:754.8px;width:30.4px;height:8.8px;background:#4a2e22;"></div>
<div class="t" style="left:1177.2px;top:760.72px;height:40px;line-height:40px;font-size:18.8px;color:#555;white-space:nowrap;width:30.4px;text-align:center;letter-spacing:-0.2px;">..</div>
<div style="left:1227.2px;top:754.8px;width:30.8px;height:40px;background:#fde7bb;border:2.4px solid #e2cf9f;box-sizing:border-box;border-radius:2.4px;"></div>
<div style="left:1227.2px;top:754.8px;width:30.8px;height:8.8px;background:#ea8fe6;"></div>
<div class="t" style="left:1227.2px;top:760.72px;height:40px;line-height:40px;font-size:18.8px;color:#555;white-space:nowrap;width:30.8px;text-align:center;letter-spacing:-0.2px;">...</div>
<div style="left:1261.2px;top:754.8px;width:13.2px;height:40px;background:#fde7bb;border:2.4px solid #e2cf9f;box-sizing:border-box;border-radius:2.4px;"></div>
<div style="left:1262.4px;top:754.8px;width:6.8px;height:8px;background:#c22222;"></div>
<div style="left:1355.2px;top:754.8px;width:12.8px;height:40px;background:#c99886;border:2.4px solid #e2cf9f;box-sizing:border-box;border-radius:2.4px;"></div>
<div style="left:1356.4px;top:754.8px;width:10.4px;height:8px;background:#6a4a3a;"></div>
<div style="left:1372.8px;top:754.8px;width:11.6px;height:40px;background:#fde7bb;border:2.4px solid #e2cf9f;box-sizing:border-box;border-radius:2.4px;"></div>
<div style="left:1374px;top:754.8px;width:6.8px;height:8px;background:#3070d0;"></div>
<div style="left:1526.4px;top:754.8px;width:83.2px;height:40px;background:#2fd22f;border:2.4px solid #28b828;box-sizing:border-box;border-radius:2.4px;"></div>
<div style="left:1526.4px;top:754.8px;width:83.2px;height:8.8px;background:#8a2fb0;"></div>
<div class="t" style="left:1526.4px;top:760.72px;height:40px;line-height:40px;font-size:18.8px;color:#1a7a1a;white-space:nowrap;width:83.2px;text-align:center;letter-spacing:-0.2px;">075_...</div>
<div style="left:766.8px;top:799.2px;width:28.4px;height:38.8px;background:#fde7bb;border:2.4px solid #e2cf9f;box-sizing:border-box;border-radius:2.4px;"></div>
<div style="left:766.8px;top:799.2px;width:28.4px;height:8.8px;background:#1c1c1c;"></div>
<div class="t" style="left:766.8px;top:804.52px;height:40px;line-height:40px;font-size:18.8px;color:#555;white-space:nowrap;width:28.4px;text-align:center;letter-spacing:-0.2px;">...</div>
<div style="left:845.6px;top:799.2px;width:11.6px;height:38.8px;background:#fde7bb;border:2.4px solid #e2cf9f;box-sizing:border-box;border-radius:2.4px;"></div>
<div style="left:846.8px;top:799.2px;width:6px;height:8px;background:#1c1c1c;"></div>
<div style="left:1198px;top:799.2px;width:18.8px;height:38.8px;background:#fde7bb;border:2.4px solid #e2cf9f;box-sizing:border-box;border-radius:2.4px;"></div>
<div style="left:1198px;top:799.2px;width:18.8px;height:8.8px;background:#1c1c1c;"></div>
<div style="left:169.2px;top:869.2px;width:515.6px;height:37.2px;background:#fde7bb;border:2.4px solid #e2cf9f;box-sizing:border-box;border-radius:2.4px;"></div>
<div style="left:169.2px;top:869.2px;width:515.6px;height:8.8px;background:#20262e;"></div>
<div class="t" style="left:169.2px;top:873.72px;height:40px;line-height:40px;font-size:18.8px;color:#555;white-space:nowrap;width:515.6px;text-align:center;letter-spacing:-0.2px;">MO-456</div>
<div style="left:687.2px;top:869.2px;width:10.4px;height:37.2px;background:#fde7bb;border:2.4px solid #e2cf9f;box-sizing:border-box;border-radius:2.4px;"></div>
<div style="left:707.2px;top:869.2px;width:11.6px;height:37.2px;background:#fde7bb;border:2.4px solid #e2cf9f;box-sizing:border-box;border-radius:2.4px;"></div>
<div style="left:792.8px;top:869.2px;width:38.4px;height:37.2px;background:#fde7bb;border:2.4px solid #e2cf9f;box-sizing:border-box;border-radius:2.4px;"></div>
<div style="left:792.8px;top:869.2px;width:38.4px;height:8.8px;background:#33c433;"></div>
<div class="t" style="left:792.8px;top:873.72px;height:40px;line-height:40px;font-size:18.8px;color:#555;white-space:nowrap;width:38.4px;text-align:center;letter-spacing:-0.2px;">...</div>
<div style="left:833.6px;top:869.2px;width:12px;height:37.2px;background:#fde7bb;border:2.4px solid #e2cf9f;box-sizing:border-box;border-radius:2.4px;"></div>
<div style="left:1055.2px;top:869.2px;width:11.6px;height:37.2px;background:#fde7bb;border:2.4px solid #e2cf9f;box-sizing:border-box;border-radius:2.4px;"></div>
<div style="left:1144px;top:869.2px;width:20px;height:37.2px;background:#fde7bb;border:2.4px solid #e2cf9f;box-sizing:border-box;border-radius:2.4px;"></div>
<div style="left:1144px;top:869.2px;width:20px;height:8.8px;background:#4a2e22;"></div>
<div style="left:1176px;top:869.2px;width:20px;height:37.2px;background:#fde7bb;border:2.4px solid #e2cf9f;box-sizing:border-box;border-radius:2.4px;"></div>
<div style="left:1177.2px;top:869.2px;width:6.8px;height:8px;background:#e030d0;"></div>
<div style="left:1244.8px;top:869.2px;width:12px;height:37.2px;background:#fde7bb;border:2.4px solid #e2cf9f;box-sizing:border-box;border-radius:2.4px;"></div>
<div style="left:1246px;top:869.2px;width:4.8px;height:8px;background:#e89a2e;"></div>
<div style="left:1324.8px;top:869.2px;width:12.8px;height:37.2px;background:#fde7bb;border:2.4px solid #e2cf9f;box-sizing:border-box;border-radius:2.4px;"></div>
<div style="left:1326px;top:869.2px;width:10.4px;height:8px;background:#b5640f;"></div>
<div style="left:1340px;top:869.2px;width:11.6px;height:37.2px;background:#fde7bb;border:2.4px solid #e2cf9f;box-sizing:border-box;border-radius:2.4px;"></div>
<div style="left:1341.2px;top:869.2px;width:9.2px;height:8px;background:#3070d0;"></div>
<div style="left:1576.8px;top:869.2px;width:12.8px;height:37.2px;background:#fde7bb;border:2.4px solid #e2cf9f;box-sizing:border-box;border-radius:2.4px;"></div>
<div style="left:1578px;top:869.2px;width:10.4px;height:8px;background:#9a20b8;"></div>
<div style="left:251.2px;top:912.4px;width:12.8px;height:37.6px;background:#fde7bb;border:2.4px solid #e2cf9f;box-sizing:border-box;border-radius:2.4px;"></div>
<div style="left:252.4px;top:912.4px;width:4.8px;height:8px;background:#e89a2e;"></div>
<div style="left:282.8px;top:912.4px;width:11.6px;height:37.6px;background:#fde7bb;border:2.4px solid #e2cf9f;box-sizing:border-box;border-radius:2.4px;"></div>
<div style="left:417.6px;top:912.4px;width:11.6px;height:37.6px;background:#fde7bb;border:2.4px solid #e2cf9f;box-sizing:border-box;border-radius:2.4px;"></div>
<div style="left:418.8px;top:912.4px;width:9.2px;height:8px;background:#c22222;"></div>
<div style="left:500.8px;top:912.4px;width:24.8px;height:37.6px;background:#fde7bb;border:2.4px solid #e2cf9f;box-sizing:border-box;border-radius:2.4px;"></div>
<div style="left:500.8px;top:912.4px;width:24.8px;height:8.8px;background:#173a17;"></div>
<div class="t" style="left:500.8px;top:917.12px;height:40px;line-height:40px;font-size:18.8px;color:#555;white-space:nowrap;width:24.8px;text-align:center;letter-spacing:-0.2px;">..</div>
<div style="left:624px;top:912.4px;width:11.6px;height:37.6px;background:#fde7bb;border:2.4px solid #e2cf9f;box-sizing:border-box;border-radius:2.4px;"></div>
<div style="left:625.2px;top:912.4px;width:6.8px;height:8px;background:#e030d0;"></div>
<div style="left:693.2px;top:912.4px;width:14px;height:37.6px;background:#fde7bb;border:2.4px solid #e2cf9f;box-sizing:border-box;border-radius:2.4px;"></div>
<div style="left:694.4px;top:912.4px;width:11.6px;height:8px;background:#8a6a5a;"></div>
<div style="left:708px;top:912.4px;width:82.4px;height:37.6px;background:#fde7bb;border:2.4px solid #e2cf9f;box-sizing:border-box;border-radius:2.4px;"></div>
<div style="left:708px;top:912.4px;width:82.4px;height:8.8px;background:#1c1c1c;"></div>
<div class="t" style="left:708px;top:917.12px;height:40px;line-height:40px;font-size:18.8px;color:#555;white-space:nowrap;width:82.4px;text-align:center;letter-spacing:-0.2px;">WB-123</div>
<div style="left:1162px;top:912.4px;width:12.8px;height:37.6px;background:#fde7bb;border:2.4px solid #e2cf9f;box-sizing:border-box;border-radius:2.4px;"></div>
<div style="left:1163.2px;top:912.4px;width:10.4px;height:8px;background:#1c1c1c;"></div>
<div style="left:282.8px;top:979.2px;width:11.6px;height:38.8px;background:#fde7bb;border:2.4px solid #e2cf9f;box-sizing:border-box;border-radius:2.4px;"></div>
<div style="left:284px;top:979.2px;width:4.8px;height:8px;background:#e89a2e;"></div>
<div style="left:295.6px;top:979.2px;width:43.6px;height:38.8px;background:#fde7bb;border:2.4px solid #e2cf9f;box-sizing:border-box;border-radius:2.4px;"></div>
<div style="left:295.6px;top:979.2px;width:43.6px;height:8.8px;background:#6a88c8;"></div>
<div class="t" style="left:295.6px;top:984.52px;height:40px;line-height:40px;font-size:18.8px;color:#555;white-space:nowrap;width:43.6px;text-align:center;letter-spacing:-0.2px;">0...</div>
<div style="left:458.8px;top:979.2px;width:43.2px;height:38.8px;background:#fde7bb;border:2.4px solid #e2cf9f;box-sizing:border-box;border-radius:2.4px;"></div>
<div style="left:458.8px;top:979.2px;width:43.2px;height:8.8px;background:#c22222;"></div>
<div class="t" style="left:458.8px;top:984.52px;height:40px;line-height:40px;font-size:18.8px;color:#555;white-space:nowrap;width:43.2px;text-align:center;letter-spacing:-0.2px;">0...</div>
<div style="left:611.2px;top:979.2px;width:60.8px;height:38.8px;background:#fde7bb;border:2.4px solid #e2cf9f;box-sizing:border-box;border-radius:2.4px;"></div>
<div style="left:611.2px;top:979.2px;width:60.8px;height:8.8px;background:#173a17;"></div>
<div class="t" style="left:611.2px;top:984.52px;height:40px;line-height:40px;font-size:18.8px;color:#555;white-space:nowrap;width:60.8px;text-align:center;letter-spacing:-0.2px;">MO...</div>
<div style="left:682.4px;top:979.2px;width:12.8px;height:38.8px;background:#fde7bb;border:2.4px solid #e2cf9f;box-sizing:border-box;border-radius:2.4px;"></div>
<div style="left:683.6px;top:979.2px;width:6.8px;height:8px;background:#e030d0;"></div>
<div style="left:778.8px;top:979.2px;width:80.8px;height:38.8px;background:#fde7bb;border:2.4px solid #e2cf9f;box-sizing:border-box;border-radius:2.4px;"></div>
<div style="left:778.8px;top:979.2px;width:80.8px;height:8.8px;background:#9a7a6a;"></div>
<div class="t" style="left:778.8px;top:984.52px;height:40px;line-height:40px;font-size:18.8px;color:#555;white-space:nowrap;width:80.8px;text-align:center;letter-spacing:-0.2px;">MO123</div>
<div style="left:877.2px;top:979.2px;width:40.8px;height:38.8px;background:#fde7bb;border:2.4px solid #e2cf9f;box-sizing:border-box;border-radius:2.4px;"></div>
<div style="left:877.2px;top:979.2px;width:40.8px;height:8.8px;background:#5fd45f;"></div>
<div class="t" style="left:877.2px;top:984.52px;height:40px;line-height:40px;font-size:18.8px;color:#555;white-space:nowrap;width:40.8px;text-align:center;letter-spacing:-0.2px;">...</div>
<div style="left:919.2px;top:979.2px;width:55.2px;height:38.8px;background:#fde7bb;border:2.4px solid #e2cf9f;box-sizing:border-box;border-radius:2.4px;"></div>
<div style="left:919.2px;top:979.2px;width:55.2px;height:8.8px;background:#d9ad8a;"></div>
<div class="t" style="left:919.2px;top:984.52px;height:40px;line-height:40px;font-size:18.8px;color:#555;white-space:nowrap;width:55.2px;text-align:center;letter-spacing:-0.2px;">W...</div>
<div style="left:975.6px;top:979.2px;width:16.4px;height:38.8px;background:#fde7bb;border:2.4px solid #e2cf9f;box-sizing:border-box;border-radius:2.4px;"></div>
<div style="left:976.8px;top:979.2px;width:14px;height:8px;background:#1c1c1c;"></div>
<div style="left:994.4px;top:979.2px;width:15.2px;height:38.8px;background:#fde7bb;border:2.4px solid #e2cf9f;box-sizing:border-box;border-radius:2.4px;"></div>
<div style="left:995.6px;top:979.2px;width:12.8px;height:8px;background:#33c433;"></div>
<div style="left:1012px;top:979.2px;width:15.2px;height:38.8px;background:#fde7bb;border:2.4px solid #e2cf9f;box-sizing:border-box;border-radius:2.4px;"></div>
<div style="left:1013.2px;top:979.2px;width:12.8px;height:8px;background:#1c1c1c;"></div>
<div style="left:1083.2px;top:979.2px;width:34px;height:38.8px;background:#fde7bb;border:2.4px solid #e2cf9f;box-sizing:border-box;border-radius:2.4px;"></div>
<div style="left:1083.2px;top:979.2px;width:34px;height:8.8px;background:#5fd45f;"></div>
<div class="t" style="left:1083.2px;top:984.52px;height:40px;line-height:40px;font-size:18.8px;color:#555;white-space:nowrap;width:34px;text-align:center;letter-spacing:-0.2px;">...</div>
<div style="left:1207.6px;top:979.2px;width:46.8px;height:38.8px;background:#fde7bb;border:2.4px solid #e2cf9f;box-sizing:border-box;border-radius:2.4px;"></div>
<div style="left:1207.6px;top:979.2px;width:46.8px;height:8.8px;background:#4a2e22;"></div>
<div class="t" style="left:1207.6px;top:984.52px;height:40px;line-height:40px;font-size:18.8px;color:#555;white-space:nowrap;width:46.8px;text-align:center;letter-spacing:-0.2px;">0...</div>
<div style="left:1260px;top:979.2px;width:37.6px;height:38.8px;background:#fde7bb;border:2.4px solid #e2cf9f;box-sizing:border-box;border-radius:2.4px;"></div>
<div style="left:1260px;top:979.2px;width:37.6px;height:8.8px;background:#ea8fe6;"></div>
<div class="t" style="left:1260px;top:984.52px;height:40px;line-height:40px;font-size:18.8px;color:#555;white-space:nowrap;width:37.6px;text-align:center;letter-spacing:-0.2px;">J...</div>
<div style="left:1300px;top:979.2px;width:89.2px;height:38.8px;background:#fde7bb;border:2.4px solid #e2cf9f;box-sizing:border-box;border-radius:2.4px;"></div>
<div style="left:1300px;top:979.2px;width:89.2px;height:8.8px;background:#c4503e;"></div>
<div class="t" style="left:1300px;top:984.52px;height:40px;line-height:40px;font-size:18.8px;color:#555;white-space:nowrap;width:89.2px;text-align:center;letter-spacing:-0.2px;">067_...</div>
<div style="left:1390.4px;top:979.2px;width:74.8px;height:38.8px;background:#c99886;border:2.4px solid #b88878;box-sizing:border-box;border-radius:2.4px;"></div>
<div style="left:1390.4px;top:979.2px;width:74.8px;height:8.8px;background:#b5640f;"></div>
<div class="t" style="left:1390.4px;top:984.52px;height:40px;line-height:40px;font-size:18.8px;color:#555;white-space:nowrap;width:74.8px;text-align:center;letter-spacing:-0.2px;">073_</div>
<div style="left:1466.4px;top:979.2px;width:92.8px;height:38.8px;background:#fde7bb;border:2.4px solid #e2cf9f;box-sizing:border-box;border-radius:2.4px;"></div>
<div style="left:1466.4px;top:979.2px;width:92.8px;height:8.8px;background:#1f80e6;"></div>
<div class="t" style="left:1466.4px;top:984.52px;height:40px;line-height:40px;font-size:18.8px;color:#555;white-space:nowrap;width:92.8px;text-align:center;letter-spacing:-0.2px;">JN321</div>
<div style="left:1630.4px;top:979.2px;width:14px;height:38.8px;background:#fde7bb;border:2.4px solid #e2cf9f;box-sizing:border-box;border-radius:2.4px;"></div>
<div style="left:1631.6px;top:979.2px;width:11.6px;height:8px;background:#9a20b8;"></div>
<div style="left:798.4px;top:1024px;width:76.4px;height:37.2px;background:#fde7bb;border:2.4px solid #e2cf9f;box-sizing:border-box;border-radius:2.4px;"></div>
<div style="left:798.4px;top:1024px;width:76.4px;height:8.8px;background:#1c1c1c;"></div>
<div class="t" style="left:798.4px;top:1028.52px;height:40px;line-height:40px;font-size:18.8px;color:#555;white-space:nowrap;width:76.4px;text-align:center;letter-spacing:-0.2px;">MO-4...</div>
<div style="left:1216.8px;top:1024px;width:28px;height:37.2px;background:#fde7bb;border:2.4px solid #e2cf9f;box-sizing:border-box;border-radius:2.4px;"></div>
<div style="left:1216.8px;top:1024px;width:28px;height:8.8px;background:#1c1c1c;"></div>
<div class="t" style="left:1216.8px;top:1028.52px;height:40px;line-height:40px;font-size:18.8px;color:#555;white-space:nowrap;width:28px;text-align:center;letter-spacing:-0.2px;">..</div>
<div style="left:2268px;top:452px;width:29.2px;height:663.2px;background:#e9e9e9;"></div>
<div style="left:2297.2px;top:452px;width:30px;height:663.2px;background:#e6e6e6;"></div>
<div style="left:2297.2px;top:452px;width:30px;height:224px;background:#c6c6c6;"></div>
<div style="left:2327.2px;top:385.6px;width:12.8px;height:729.6px;background:#f0f0f0;"></div>
<div style="left:2308.8px;top:870px;width:8px;height:5.2px;background:#8a8a8a;"></div>
<div style="left:2308.8px;top:899.2px;width:8px;height:5.2px;background:#8a8a8a;"></div>
<div style="left:2308.8px;top:930px;width:8px;height:5.2px;background:#8a8a8a;"></div>
<div style="left:2308.8px;top:958px;width:8px;height:5.2px;background:#8a8a8a;"></div>
<div style="left:2308.8px;top:986px;width:8px;height:5.2px;background:#8a8a8a;"></div>
<div style="left:2308.8px;top:1014px;width:8px;height:5.2px;background:#8a8a8a;"></div>
<div style="left:2308.8px;top:1044px;width:8px;height:5.2px;background:#8a8a8a;"></div>
<div style="left:2308.8px;top:1070px;width:8px;height:5.2px;background:#8a8a8a;"></div>
<div style="left:88.8px;top:1088px;width:2243.2px;height:27.2px;background:#c9c9c9;"></div>
<div style="left:2268px;top:1088px;width:64px;height:27.2px;background:#e9e9e9;"></div>
<div style="left:88.8px;top:1115.2px;width:2251.2px;height:26.8px;background:#f0f0f0;"></div>
<div class="t" style="left:1184px;top:1110.16px;height:40px;line-height:40px;font-size:20px;color:#888;white-space:nowrap;">&middot;&middot;&middot;&middot;&middot;</div>
<div style="left:88px;top:1142px;width:182px;height:40px;background:#f8f8f8;border:4px solid #d2d2d2;border-bottom:none;box-sizing:border-box;"></div>
<div style="left:270px;top:1146px;width:174px;height:34px;background:#ececec;border:4px solid #d6d6d6;border-left:none;box-sizing:border-box;"></div>
<div class="t" style="left:103.6px;top:1142.72px;height:40px;line-height:40px;font-size:18.8px;color:#4a4a4a;white-space:nowrap;letter-spacing:-0.29px;"><span id="t17">Machine Utilization</span></div>
<div class="t" style="left:291.2px;top:1143.92px;height:40px;line-height:40px;font-size:18.8px;color:#555;white-space:nowrap;letter-spacing:-0.14px;"><span id="t18">Labor Utilization</span></div>
<div style="left:88px;top:1180px;width:2246px;height:262px;background:#ffffff;border:4px solid #d9d9d9;box-sizing:border-box;"></div>
<div style="left:220.8px;top:1198px;width:2075.2px;height:215.6px;background:#fff;border:2.4px solid #dedede;box-sizing:border-box;"></div>
<div style="left:218px;top:1410.4px;width:2078px;height:3.2px;background:#e2e2e2;"></div>
<div class="t" style="left:120px;top:1393.4px;height:40px;line-height:40px;font-size:18.4px;color:#666;white-space:nowrap;width:80px;text-align:right;">0</div>
<div style="left:218px;top:1348.92px;width:2078px;height:3.2px;background:#e2e2e2;"></div>
<div class="t" style="left:120px;top:1331.92px;height:40px;line-height:40px;font-size:18.4px;color:#666;white-space:nowrap;width:80px;text-align:right;">50</div>
<div style="left:218px;top:1287.44px;width:2078px;height:3.2px;background:#e2e2e2;"></div>
<div class="t" style="left:120px;top:1270.44px;height:40px;line-height:40px;font-size:18.4px;color:#666;white-space:nowrap;width:80px;text-align:right;">100</div>
<div style="left:218px;top:1225.96px;width:2078px;height:3.2px;background:#e2e2e2;"></div>
<div class="t" style="left:120px;top:1208.96px;height:40px;line-height:40px;font-size:18.4px;color:#666;white-space:nowrap;width:80px;text-align:right;">150</div>
<div style="left:218.4px;top:1197.2px;width:2.4px;height:216.4px;background:#d0d0d0;"></div>
<div style="left:212px;top:1411px;width:8px;height:2px;background:#d4d4d4;"></div>
<div style="left:214.4px;top:1398.72px;width:5.6px;height:2px;background:#d4d4d4;"></div>
<div style="left:214.4px;top:1386.4px;width:5.6px;height:2px;background:#d4d4d4;"></div>
<div style="left:214.4px;top:1374.12px;width:5.6px;height:2px;background:#d4d4d4;"></div>
<div style="left:214.4px;top:1361.8px;width:5.6px;height:2px;background:#d4d4d4;"></div>
<div style="left:212px;top:1349.52px;width:8px;height:2px;background:#d4d4d4;"></div>
<div style="left:214.4px;top:1337.24px;width:5.6px;height:2px;background:#d4d4d4;"></div>
<div style="left:214.4px;top:1324.92px;width:5.6px;height:2px;background:#d4d4d4;"></div>
<div style="left:214.4px;top:1312.64px;width:5.6px;height:2px;background:#d4d4d4;"></div>
<div style="left:214.4px;top:1300.32px;width:5.6px;height:2px;background:#d4d4d4;"></div>
<div style="left:212px;top:1288.04px;width:8px;height:2px;background:#d4d4d4;"></div>
<div style="left:214.4px;top:1275.76px;width:5.6px;height:2px;background:#d4d4d4;"></div>
<div style="left:214.4px;top:1263.44px;width:5.6px;height:2px;background:#d4d4d4;"></div>
<div style="left:214.4px;top:1251.16px;width:5.6px;height:2px;background:#d4d4d4;"></div>
<div style="left:214.4px;top:1238.84px;width:5.6px;height:2px;background:#d4d4d4;"></div>
<div style="left:212px;top:1226.56px;width:8px;height:2px;background:#d4d4d4;"></div>
<div style="left:376.4px;top:1373.6px;width:32px;height:38.4px;background:#5b9bd5;"></div>
<div style="left:426px;top:1314px;width:32px;height:98px;background:#5b9bd5;"></div>
<div style="left:475.6px;top:1388px;width:32px;height:24px;background:#5b9bd5;"></div>
<div style="left:525.2px;top:1400px;width:32px;height:12px;background:#5b9bd5;"></div>
<div style="left:574.8px;top:1358px;width:32px;height:54px;background:#5b9bd5;"></div>
<div style="left:624.4px;top:1367.2px;width:32px;height:44.8px;background:#5b9bd5;"></div>
<div style="left:674px;top:1358px;width:32px;height:54px;background:#5b9bd5;"></div>
<div style="left:723.6px;top:1219.6px;width:32px;height:192.4px;background:#5b9bd5;"></div>
<div style="left:773.2px;top:1288.8px;width:32px;height:123.2px;background:#5b9bd5;"></div>
<div style="left:822.8px;top:1273.6px;width:32px;height:138.4px;background:#5b9bd5;"></div>
<div style="left:872.4px;top:1335.6px;width:32px;height:76.4px;background:#5b9bd5;"></div>
<div style="left:922px;top:1397.6px;width:32px;height:14.4px;background:#5b9bd5;"></div>
<div style="left:971.6px;top:1232.4px;width:32px;height:179.6px;background:#5b9bd5;"></div>
<div style="left:1021.2px;top:1401.2px;width:32px;height:10.8px;background:#5b9bd5;"></div>
<div style="left:1070.8px;top:1358px;width:32px;height:54px;background:#5b9bd5;"></div>
<div style="left:1120.4px;top:1342.4px;width:32px;height:69.6px;background:#5b9bd5;"></div>
<div style="left:1170px;top:1381.2px;width:32px;height:30.8px;background:#5b9bd5;"></div>
<div style="left:1219.6px;top:1373.2px;width:32px;height:38.8px;background:#5b9bd5;"></div>
<svg style="position:absolute;left:0;top:0" width="2360.0" height="1434.0"><g transform="scale(4)"><polyline points="569.30,118.05 570.70,116.55 572.10,118.05" fill="none" stroke="#555" stroke-width="0.9"/><polyline points="569.30,154.65 570.70,156.15 572.10,154.65" fill="none" stroke="#555" stroke-width="0.9"/><polyline points="569.30,164.45 570.70,162.95 572.10,164.45" fill="none" stroke="#555" stroke-width="0.9"/><polyline points="569.30,182.75 570.70,184.25 572.10,182.75" fill="none" stroke="#555" stroke-width="0.9"/><polyline points="569.30,192.55 570.70,191.05 572.10,192.55" fill="none" stroke="#555" stroke-width="0.9"/><polyline points="569.30,210.85 570.70,212.35 572.10,210.85" fill="none" stroke="#555" stroke-width="0.9"/><polyline points="569.30,220.65 570.70,219.15 572.10,220.65" fill="none" stroke="#555" stroke-width="0.9"/><polyline points="569.30,238.85 570.70,240.35 572.10,238.85" fill="none" stroke="#555" stroke-width="0.9"/><polyline points="569.30,248.65 570.70,247.15 572.10,248.65" fill="none" stroke="#555" stroke-width="0.9"/><polyline points="569.30,267.25 570.70,268.75 572.10,267.25" fill="none" stroke="#555" stroke-width="0.9"/><polyline points="576.80,210.85 578.20,212.35 579.60,210.85" fill="none" stroke="#555" stroke-width="0.9"/><polyline points="529.00,71.80 530.10,73.10 532.00,70.30" fill="none" stroke="#333" stroke-width="0.8"/><polyline points="32.75,85.00 30.55,87.20 32.75,89.40" fill="none" stroke="#6a6a6a" stroke-width="0.8"/><polyline points="41.95,85.00 44.15,87.20 41.95,89.40" fill="none" stroke="#6a6a6a" stroke-width="0.8"/><polyline points="26.60,273.90 25.30,275.50 26.60,277.10" fill="none" stroke="#555" stroke-width="0.7"/><polyline points="570.60,273.90 571.90,275.50 570.60,277.10" fill="none" stroke="#555" stroke-width="0.7"/><path d="M576.70,5.00 L579.70,8.00 M579.70,5.00 L576.70,8.00" stroke="#fff" stroke-width="0.9" fill="none"/><path d="M575.80,29.10 L578.80,32.10 M578.80,29.10 L575.80,32.10" stroke="#555" stroke-width="0.7" fill="none"/></g></svg>
</div></div>
<svg id="callout" width="1024" height="483" viewBox="0 0 1024 483">
<defs><linearGradient id="g" x1="0" y1="0" x2="0" y2="1">
<stop offset="0" stop-color="#edf1fa"/>
<stop offset="0.35" stop-color="#d3dcf1"/>
<stop offset="0.80" stop-color="#a8bbe3"/>
<stop offset="1" stop-color="#c8d5ef"/>
</linearGradient></defs>
<path d="M709.5,146.4 H965.9 A52,52 0 0 1 1017.9,198.4 V406.0 A52,52 0 0 1 965.9,458.0 H709.5 A52,52 0 0 1 657.5,406.0 V276.0 L577.5,123.2 L657.5,198.0 A52,52 0 0 1 709.5,146.4 Z" fill="url(#g)" stroke="#44679f" stroke-width="1" stroke-linejoin="miter"/>
</svg>
<div id="quote">
<span class="q" id="q0_0" style="left:676.04px;top:191.00px;letter-spacing:0.550px;">&ldquo;With</span>
<span class="q" id="q0_1" style="left:714.44px;top:191.00px;letter-spacing:0.081px;">our</span>
<span class="q" id="q0_2" style="left:738.31px;top:191.00px;letter-spacing:-0.700px;">ERP,</span>
<span class="q" id="q0_3" style="left:768.58px;top:191.00px;letter-spacing:-0.150px;">we</span>
<span class="q" id="q0_4" style="left:790.20px;top:191.00px;letter-spacing:0.394px;">found</span>
<span class="q" id="q0_5" style="left:830.30px;top:191.00px;letter-spacing:0.300px;">it</span>
<span class="q" id="q0_6" style="left:840.73px;top:191.00px;letter-spacing:0.253px;">extremely</span>
<span class="q" id="q0_7" style="left:905.37px;top:191.00px;letter-spacing:0.138px;">difficult</span>
<span class="q" id="q0_8" style="left:954.78px;top:191.00px;letter-spacing:0.300px;">to</span>
<span class="q" id="q1_0" style="left:675.24px;top:209.00px;letter-spacing:-0.121px;">manage</span>
<span class="q" id="q1_1" style="left:727.69px;top:209.00px;letter-spacing:0.181px;">our</span>
<span class="q" id="q1_2" style="left:751.76px;top:209.00px;letter-spacing:0.312px;">production</span>
<span class="q" id="q1_3" style="left:822.10px;top:209.00px;letter-spacing:0.207px;">efficiently</span>
<span class="q" id="q1_4" style="left:885.12px;top:209.00px;letter-spacing:0.037px;">and</span>
<span class="q" id="q1_5" style="left:911.86px;top:209.00px;letter-spacing:0.314px;">quote</span>
<span class="q" id="q2_0" style="left:675.31px;top:227.00px;letter-spacing:0.020px;">accurate</span>
<span class="q" id="q2_1" style="left:732.19px;top:227.00px;letter-spacing:-0.426px;">lead</span>
<span class="q" id="q2_2" style="left:759.75px;top:227.00px;letter-spacing:0.303px;">times</span>
<span class="q" id="q2_3" style="left:797.68px;top:227.00px;letter-spacing:0.300px;">to</span>
<span class="q" id="q2_4" style="left:813.49px;top:227.00px;letter-spacing:0.181px;">our</span>
<span class="q" id="q2_5" style="left:837.40px;top:227.00px;letter-spacing:-0.008px;">customers.</span>
<span class="q" id="q2_6" style="left:912.58px;top:227.00px;letter-spacing:0.366px;">Now,</span>
<span class="q" id="q2_7" style="left:947.83px;top:227.00px;letter-spacing:0.453px;">with</span>
<span class="q" id="q3_0" style="left:675.53px;top:245.00px;letter-spacing:-0.348px;">Resource</span>
<span class="q" id="q3_1" style="left:734.74px;top:245.00px;letter-spacing:-0.312px;">Manager-DB/EDGE</span>
<span class="q" id="q3_2" style="left:853.46px;top:245.00px;letter-spacing:0.118px;">combination,</span>
<span class="q" id="q3_3" style="left:936.47px;top:245.00px;letter-spacing:0.137px;">an</span>
<span class="q" id="q4_0" style="left:675.54px;top:263.00px;letter-spacing:0.482px;">optimum</span>
<span class="q" id="q4_1" style="left:734.57px;top:263.00px;letter-spacing:-0.065px;">schedule</span>
<span class="q" id="q4_2" style="left:792.54px;top:263.00px;letter-spacing:0.475px;">for</span>
<span class="q" id="q4_3" style="left:813.11px;top:263.00px;letter-spacing:0.027px;">materials</span>
<span class="q" id="q4_4" style="left:872.32px;top:263.00px;letter-spacing:0.038px;">and</span>
<span class="q" id="q4_5" style="left:898.25px;top:263.00px;letter-spacing:-0.107px;">workcenters</span>
<span class="q" id="q4_6" style="left:975.24px;top:263.00px;letter-spacing:0.300px;">is</span>
<span class="q" id="q5_0" style="left:675.37px;top:281.00px;letter-spacing:0.135px;">automatically</span>
<span class="q" id="q5_1" style="left:760.09px;top:281.00px;letter-spacing:-0.222px;">generated.</span>
<span class="q" id="q5_2" style="left:828.68px;top:281.00px;letter-spacing:-0.700px;">EDGE</span>
<span class="q" id="q5_3" style="left:867.35px;top:281.00px;letter-spacing:-0.291px;">displays</span>
<span class="q" id="q5_4" style="left:918.33px;top:281.00px;letter-spacing:0.465px;">the</span>
<span class="q" id="q6_0" style="left:675.48px;top:299.00px;letter-spacing:0.352px;">production</span>
<span class="q" id="q6_1" style="left:745.77px;top:299.00px;letter-spacing:-0.065px;">schedule</span>
<span class="q" id="q6_2" style="left:803.59px;top:299.00px;letter-spacing:0.170px;">by</span>
<span class="q" id="q6_3" style="left:821.19px;top:299.00px;letter-spacing:0.182px;">workcenter</span>
<span class="q" id="q6_4" style="left:893.43px;top:299.00px;letter-spacing:-0.147px;">in</span>
<span class="q" id="q6_5" style="left:907.67px;top:299.00px;letter-spacing:0.137px;">an</span>
<span class="q" id="q6_6" style="left:926.76px;top:299.00px;letter-spacing:-0.089px;">easy-to-</span>
<span class="q" id="q7_0" style="left:675.39px;top:317.00px;letter-spacing:0.187px;">understand</span>
<span class="q" id="q7_1" style="left:748.41px;top:317.00px;letter-spacing:0.025px;">grahpical</span>
<span class="q" id="q7_2" style="left:807.13px;top:317.00px;letter-spacing:0.270px;">format.</span>
<span class="q" id="q7_3" style="left:856.81px;top:317.00px;letter-spacing:0.300px;">I</span>
<span class="q" id="q7_4" style="left:864.18px;top:317.00px;letter-spacing:-0.241px;">can</span>
<span class="q" id="q7_5" style="left:889.07px;top:317.00px;letter-spacing:-0.462px;">make</span>
<span class="q" id="q7_6" style="left:924.04px;top:317.00px;letter-spacing:0.273px;">final</span>
<span class="q" id="q8_0" style="left:675.35px;top:335.00px;letter-spacing:0.101px;">manual</span>
<span class="q" id="q8_1" style="left:723.82px;top:335.00px;letter-spacing:0.246px;">adjustments</span>
<span class="q" id="q8_2" style="left:802.82px;top:335.00px;letter-spacing:0.045px;">simply</span>
<span class="q" id="q8_3" style="left:845.06px;top:335.00px;letter-spacing:0.528px;">with</span>
<span class="q" id="q8_4" style="left:875.12px;top:335.00px;letter-spacing:0.431px;">the</span>
<span class="q" id="q8_5" style="left:898.83px;top:335.00px;letter-spacing:-0.147px;">click</span>
<span class="q" id="q8_6" style="left:928.48px;top:335.00px;letter-spacing:0.300px;">of</span>
<span class="q" id="q8_7" style="left:944.02px;top:335.00px;letter-spacing:-0.150px;">a</span>
<span class="q" id="q8_8" style="left:954.96px;top:335.00px;letter-spacing:-0.083px;">mouse</span>
<span class="q" id="q9_0" style="left:675.32px;top:353.00px;letter-spacing:0.038px;">and</span>
<span class="q" id="q9_1" style="left:701.43px;top:353.00px;letter-spacing:0.264px;">all</span>
<span class="q" id="q9_2" style="left:719.12px;top:353.00px;letter-spacing:0.431px;">the</span>
<span class="q" id="q9_3" style="left:742.57px;top:353.00px;letter-spacing:-0.053px;">dates</span>
<span class="q" id="q9_4" style="left:778.72px;top:353.00px;letter-spacing:-0.150px;">associated</span>
<span class="q" id="q9_5" style="left:846.07px;top:353.00px;letter-spacing:-0.052px;">are</span>
<span class="q" id="q9_6" style="left:869.21px;top:353.00px;letter-spacing:0.212px;">automatically</span>
<span class="q" id="q10_0" style="left:675.27px;top:371.00px;letter-spacing:-0.051px;">synchronized</span>
<span class="q" id="q10_1" style="left:758.46px;top:371.00px;letter-spacing:-0.280px;">back</span>
<span class="q" id="q10_2" style="left:789.68px;top:371.00px;letter-spacing:0.300px;">to</span>
<span class="q" id="q10_3" style="left:805.62px;top:371.00px;letter-spacing:0.431px;">the</span>
<span class="q" id="q10_4" style="left:829.85px;top:371.00px;letter-spacing:-0.503px;">ERP.&quot;</span>
<span class="q" id="q10_5" style="left:866.53px;top:371.00px;letter-spacing:0.300px;">-</span>
<span class="q" id="q10_6" style="left:874.99px;top:371.00px;letter-spacing:0.182px;">Lori</span>
<span class="q" id="q10_7" style="left:902.68px;top:371.00px;letter-spacing:-0.243px;">Walters,</span>
<span class="q" id="q11_0" style="left:675.23px;top:389.00px;letter-spacing:-0.142px;">Purchasing/Scheduling,</span>
<span class="q" id="q11_1" style="left:819.61px;top:389.00px;letter-spacing:0.220px;">Viking</span>
<span class="q" id="q11_2" style="left:861.79px;top:389.00px;letter-spacing:-0.623px;">Forge</span>
</div>
</body></html>
